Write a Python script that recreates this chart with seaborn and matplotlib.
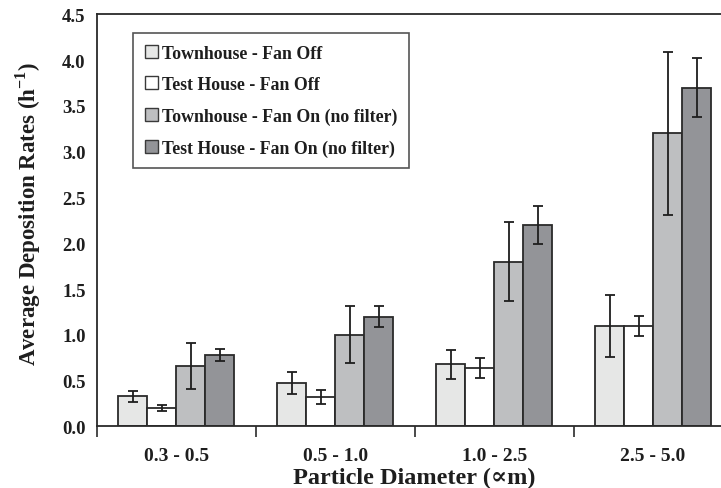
import matplotlib
matplotlib.use("Agg")
import matplotlib.pyplot as plt
import matplotlib.patches as mpatches
import numpy as np
import pandas as pd
import seaborn as sns

# Particle size bins
sizes = ["0.3 - 0.5", "0.5 - 1.0", "1.0 - 2.5", "2.5 - 5.0"]

# Series names
series = [
    "Townhouse - Fan Off",
    "Test House - Fan Off",
    "Townhouse - Fan On (no filter)",
    "Test House - Fan On (no filter)",
]

# Average deposition rates (1/h) per series, per size bin
townhouse_off = [0.33, 0.47, 0.68, 1.10]
testhouse_off = [0.20, 0.32, 0.64, 1.10]
townhouse_on = [0.66, 1.00, 1.80, 3.20]
testhouse_on = [0.78, 1.20, 2.20, 3.70]

# Error bar half-widths
townhouse_off_err = [0.06, 0.12, 0.16, 0.34]
testhouse_off_err = [0.03, 0.08, 0.11, 0.11]
townhouse_on_err = [0.25, 0.31, 0.43, 0.89]
testhouse_on_err = [0.07, 0.11, 0.21, 0.32]

values = [townhouse_off, testhouse_off, townhouse_on, testhouse_on]
errors = [townhouse_off_err, testhouse_off_err, townhouse_on_err, testhouse_on_err]

colors = ["#e6e7e6", "#ffffff", "#bebfc1", "#939498"]
edge = "#2a2a2a"

df = pd.DataFrame(
    [(s, name, v) for name, vals in zip(series, values) for s, v in zip(sizes, vals)],
    columns=["size", "series", "rate"],
)

sns.set_style("white")
plt.rcParams["font.family"] = ["Liberation Serif", "DejaVu Serif"]
plt.rcParams["font.weight"] = "bold"
plt.rcParams["mathtext.fontset"] = "custom"
plt.rcParams["mathtext.rm"] = "Liberation Serif"
plt.rcParams["mathtext.bf"] = "Liberation Serif:bold"

fig = plt.figure(figsize=(7.21, 4.89), dpi=100)
ax = fig.add_axes([0.1341, 0.1258, 0.882, 0.843])

sns.barplot(
    data=df, x="size", y="rate", hue="series", order=sizes, hue_order=series,
    palette=colors, edgecolor=edge, linewidth=1.3, width=0.73,
    errorbar=None, legend=False, ax=ax, saturation=1,
)

for cont, err in zip(ax.containers, errors):
    xs = [b.get_x() + b.get_width() / 2 for b in cont]
    hs = [b.get_height() for b in cont]
    ax.errorbar(xs, hs, yerr=err, fmt="none", ecolor="#1e1e1e",
                elinewidth=1.3, capsize=3.5, capthick=1.3, zorder=5)

ax.set_xlim(-0.5, 3.5)
ax.set_ylim(0, 4.5)
ax.set_yticks(np.arange(0, 4.51, 0.5))
ax.set_yticklabels([f"{v:.1f}" for v in np.arange(0, 4.51, 0.5)])
ax.set_xticks(range(len(sizes)))
ax.set_xticklabels(sizes)
ax.set_xticks([-0.5, 0.5, 1.5, 2.5, 3.5], minor=True)

ax.tick_params(axis="x", which="major", length=0, pad=15, labelsize=14, colors="#1e1e1e")
ax.tick_params(axis="x", which="minor", length=8, width=1.2, direction="out", color="#2a2a2a")
ax.tick_params(axis="y", which="major", length=6.5, width=1.2, direction="out",
               labelsize=13.5, colors="#1e1e1e", pad=1.5)
ax.tick_params(axis="y", color="#2a2a2a")
ax.tick_params(axis="x", which="minor", bottom=True)

for side in ["left", "bottom", "top"]:
    ax.spines[side].set_visible(True)
    ax.spines[side].set_linewidth(1.3)
    ax.spines[side].set_color("#2a2a2a")
ax.spines["right"].set_visible(False)

ax.set_xlabel("Particle Diameter (\u221dm)", fontsize=17.5, fontweight="bold",
              color="#1e1e1e", labelpad=2)
ax.set_ylabel("Average Deposition Rates (h$^{\\mathbf{-1}}$)", fontsize=16.5,
              fontweight="bold", color="#1e1e1e")
ax.yaxis.set_label_coords(-0.084, 0.518)

handles = [mpatches.Patch(facecolor=c, edgecolor="#3a3a3a", linewidth=1.0) for c in colors]
leg = fig.legend(
    handles, series, loc="upper left", bbox_to_anchor=(133 / 721, 1 - 34 / 489),
    bbox_transform=fig.transFigure, frameon=True, fancybox=False, shadow=False,
    prop={"family": ["Liberation Serif", "DejaVu Serif"], "weight": "bold", "size": 12.8},
    handlelength=0.75, handleheight=0.75, handletextpad=0.25, labelspacing=0.82,
    borderpad=0.65, borderaxespad=0,
)
leg.get_frame().set_edgecolor("#2a2a2a")
leg.get_frame().set_linewidth(1.2)
for t in leg.get_texts():
    t.set_color("#1e1e1e")

fig.savefig("out.png", dpi=100)
